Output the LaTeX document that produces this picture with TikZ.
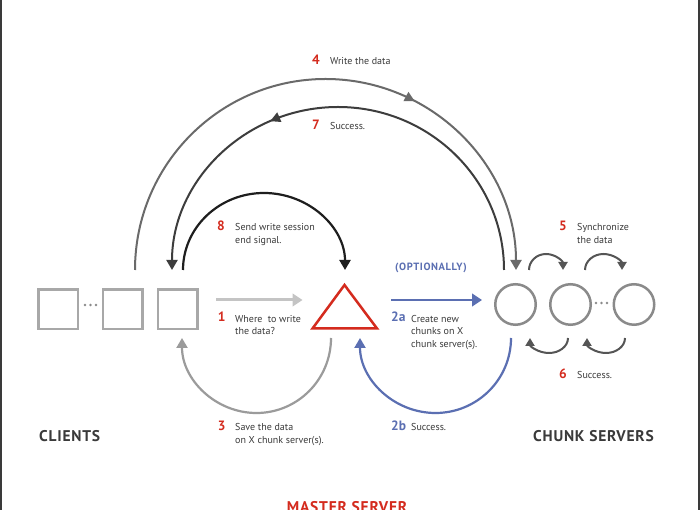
\documentclass[tikz,border=0pt]{standalone}
\usepackage{fontspec}
\setmainfont{PT Sans}
\usetikzlibrary{arrows.meta,decorations.markings}
\definecolor{redc}{HTML}{D42B1E}
\definecolor{bluec}{HTML}{5B6FB2}
\definecolor{txt}{HTML}{3A3A3A}
\definecolor{sqc}{HTML}{A8A8A8}
\definecolor{cic}{HTML}{8A8A8A}
\definecolor{g1}{HTML}{C4C4C4}
\definecolor{g3}{HTML}{9B9B9B}
\definecolor{g4}{HTML}{6A6A6A}
\definecolor{g7}{HTML}{3D3D3D}
\definecolor{g8}{HTML}{1E1E1E}
\definecolor{gs}{HTML}{555555}
\begin{document}
\begin{tikzpicture}[x=1pt,y=1pt,
  bigtip/.style={-{Triangle[length=10pt,width=11pt]}},
  smalltip/.style={-{Triangle[length=8pt,width=9pt]}},
  midarrow/.style={postaction={decorate},decoration={markings,
     mark=at position #1 with {\arrow{Triangle[length=10pt,width=10pt]}}}},
  lbl/.style={anchor=base west, inner sep=0, font=\fontsize{10}{12}\selectfont, text=txt},
  num/.style={anchor=base west, inner sep=0, font=\fontsize{13.5}{14}\selectfont\bfseries, text=redc},
  bnum/.style={num, text=bluec},
  title/.style={anchor=base west, inner sep=0, font=\fontsize{15.5}{16}\selectfont\bfseries\addfontfeature{LetterSpace=5}, text=txt},
  client/.style={draw=sqc, line width=2.5pt, minimum size=39.5pt, inner sep=0},
  srv/.style={draw=cic, circle, line width=2.5pt, minimum size=40.5pt, inner sep=0},
  dotc/.style={fill=#1, circle, inner sep=0, minimum size=2.6pt}
]
\useasboundingbox (0,0) rectangle (700,510);
\clip (0,0) rectangle (700,510);
\fill[white] (0,0) rectangle (700,510);
% side borders
\coordinate (bl0) at (1,0); \coordinate (bl1) at (1,510);
\coordinate (br0) at (699,0); \coordinate (br1) at (699,510);
\draw[line width=1.6pt, color=txt] (bl0) -- (bl1);
\draw[line width=1.6pt, color=txt] (br0) -- (br1);

% clients
\node[client] (c1) at (58,200.5) {};
\node[client] (c2) at (122.8,200.5) {};
\node[client] (c3) at (177.5,200.5) {};
\node[dotc=cic] (cd1) at (85,205) {};
\node[dotc=cic] (cd2) at (90.5,205) {};
\node[dotc=cic] (cd3) at (96,205) {};

% master
\coordinate (tA) at (344.5,225);
\coordinate (tB) at (312.5,181.5);
\coordinate (tC) at (377,181.5);
\draw[redc, line width=2.5pt] (tA) -- (tB) -- (tC) -- cycle;
\node[inner sep=0] (master) at (344.5,196) {};

% chunk servers
\node[srv] (s1) at (515.5,205.5) {};
\node[srv] (s2) at (570.5,205.5) {};
\node[srv] (s3) at (634,205.5) {};
\node[dotc=cic] (sd1) at (596,207) {};
\node[dotc=cic] (sd2) at (601.5,207) {};
\node[dotc=cic] (sd3) at (607,207) {};

% arrow 1
\coordinate (a1s) at (216,210); \coordinate (a1e) at (302.5,210);
\draw[g1, line width=3pt, -{Triangle[length=10pt,width=12.5pt]}] (a1s) -- (a1e);
% arrow 2a
\coordinate (a2s) at (391,210); \coordinate (a2e) at (482,210);
\draw[bluec, line width=2.6pt, -{Triangle[length=10pt,width=12.5pt]}] (a2s) -- (a2e);

% arc 4
\coordinate (a4s) at (135,240);
\draw[g4, line width=2pt, bigtip, midarrow=0.655] (a4s) arc[start angle=180,end angle=0,x radius=190.5,y radius=191];
% arc 7
\coordinate (a7s) at (504,240);
\draw[g7, line width=2pt, bigtip, midarrow=0.635] (a7s) arc[start angle=0,end angle=180,x radius=166,y radius=163];
% arc 8
\coordinate (a8s) at (183,240);
\draw[g8, line width=2.2pt, bigtip] (a8s) arc[start angle=180,end angle=0,x radius=81,y radius=77];
% arc 3
\coordinate (a3s) at (331,172);
\draw[g3, line width=2.2pt, bigtip] (a3s) arc[start angle=0,end angle=-180,x radius=74.5,y radius=75];
% arc 2b
\coordinate (a2bs) at (511,172);
\draw[bluec, line width=2.2pt, bigtip] (a2bs) arc[start angle=0,end angle=-180,x radius=75.5,y radius=75];

% sync arrows
\coordinate (y1s) at (529,240);
\draw[gs, line width=2pt, smalltip] (y1s) arc[start angle=180,end angle=0,x radius=17,y radius=16];
\coordinate (y2s) at (585,240);
\draw[gs, line width=2pt, smalltip] (y2s) arc[start angle=180,end angle=0,x radius=18.5,y radius=16];
\coordinate (z1s) at (568,172);
\draw[gs, line width=2pt, smalltip] (z1s) arc[start angle=0,end angle=-180,x radius=19,y radius=15];
\coordinate (z2s) at (625,172);
\draw[gs, line width=2pt, smalltip] (z2s) arc[start angle=0,end angle=-180,x radius=19,y radius=15];

% labels
\node[num] (n4) at (312,445) {4};
\node[lbl] (t4) at (330,445) {Write the data};
\node[num] (n7) at (312,380) {7};
\node[lbl] (t7) at (330,380) {Success.};
\node[num] (n8) at (217,279) {8};
\node[lbl] (t8a) at (235,279) {Send write session};
\node[lbl] (t8b) at (235,266) {end signal.};
\node[num] (n5) at (559,279) {5};
\node[lbl] (t5a) at (577,279) {Synchronize};
\node[lbl] (t5b) at (577,266) {the data};
\node[anchor=base west, inner sep=0, font=\fontsize{10.5}{12}\selectfont\bfseries\addfontfeature{LetterSpace=6}, text=bluec] (opt) at (395,239.3) {(OPTIONALLY)};
\node[num] (n1) at (217.7,188) {1};
\node[lbl] (t1a) at (235,187.5) {Where\ \ to write};
\node[lbl] (t1b) at (235,175) {the data?};
\node[bnum] (n2a) at (391,188) {2a};
\node[lbl] (t2a1) at (411,187.5) {Create new};
\node[lbl] (t2a2) at (411,175) {chunks on X};
\node[lbl] (t2a3) at (411,162.5) {chunk server(s).};
\node[num] (n6) at (559,131.7) {6};
\node[lbl] (t6) at (577,131.7) {Success.};
\node[num] (n3) at (217.7,79.3) {3};
\node[lbl] (t3a) at (235,79.3) {Save the data};
\node[lbl] (t3b) at (235,66.5) {on X chunk server(s).};
\node[bnum] (n2b) at (391,79.3) {2b};
\node[lbl] (t2b) at (411,79.3) {Success.};
\node[title] (clients) at (39,68.3) {CLIENTS};
\node[title] (chunks) at (533,68.3) {CHUNK SERVERS};
\node[title, text=redc] (mastert) at (286.7,-2.7) {MASTER SERVER};
\end{tikzpicture}
\end{document}
